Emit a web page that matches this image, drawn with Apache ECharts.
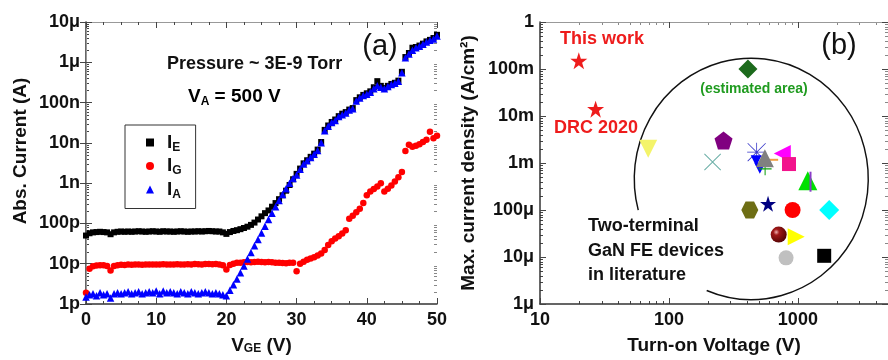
<!DOCTYPE html>
<html><head><meta charset="utf-8">
<script src="https://cdn.jsdelivr.net/npm/echarts@6/dist/echarts.min.js"></script>
<style>html,body{margin:0;padding:0;background:#fff}#c{width:888px;height:360px}</style>
</head><body><div id="c"></div>
<script>
const FONT = '"Liberation Sans", Arial, Helvetica, sans-serif';

// ---------- Panel (a) data ----------
const vGE = [0,0.5,1,1.5,2,2.5,3,3.5,4,4.5,5,5.5,6,6.5,7,7.5,8,8.5,9,9.5,10,10.5,11,11.5,12,12.5,13,13.5,14,14.5,15,15.5,16,16.5,17,17.5,18,18.5,19,19.5,20,20.5,21,21.5,22,22.5,23,23.5,24,24.5,25,25.5,26,26.5,27,27.5,28,28.5,29,29.5,30,30.5,31,31.5,32,32.5,33,33.5,34,34.5,35,35.5,36,36.5,37,37.5,38,38.5,39,39.5,40,40.5,41,41.5,42,42.5,43,43.5,44,44.5,45,45.5,46,46.5,47,47.5,48,48.5,49,49.5,50];
const iE = [5.0e-11,5.7e-11,6.0e-11,6.1e-11,6.2e-11,6.1e-11,6.0e-11,5.4e-11,6.0e-11,6.2e-11,
  6.3e-11,6.2e-11,6.3e-11,6.2e-11,6.3e-11,6.4e-11,6.3e-11,6.2e-11,6.3e-11,6.4e-11,
  6.3e-11,6.2e-11,6.4e-11,6.3e-11,6.3e-11,6.2e-11,6.3e-11,6.4e-11,6.3e-11,6.2e-11,
  6.3e-11,6.3e-11,6.4e-11,6.3e-11,6.4e-11,6.5e-11,6.4e-11,6.3e-11,6.3e-11,6.0e-11,
  5.5e-11,6.1e-11,6.5e-11,6.8e-11,7.2e-11,7.7e-11,8.3e-11,9.2e-11,1.05e-10,1.25e-10,
  1.5e-10,1.8e-10,2.1e-10,2.6e-10,3.2e-10,4.0e-10,5.0e-10,6.5e-10,9.0e-10,1.25e-9,
  1.7e-9,2.3e-9,3.1e-9,3.7e-9,4.5e-9,5.4e-9,6.8e-9,1.05e-8,2.1e-8,2.7e-8,
  3.3e-8,3.8e-8,4.6e-8,5.3e-8,5.8e-8,6.7e-8,7.3e-8,1.15e-7,1.35e-7,1.55e-7,
  1.7e-7,1.9e-7,2.4e-7,3.4e-7,2.6e-7,2.3e-7,2.6e-7,2.9e-7,3.1e-7,3.5e-7,
  5.8e-7,1.35e-6,1.7e-6,2.3e-6,2.4e-6,2.6e-6,2.9e-6,3.3e-6,3.6e-6,4.0e-6,4.8e-6];
const iG = [1.9e-12,7.5e-12,8.6e-12,9.0e-12,9.2e-12,9.1e-12,8.8e-12,6.8e-12,8.8e-12,9.2e-12,
  9.4e-12,9.3e-12,9.5e-12,9.4e-12,9.5e-12,9.6e-12,9.4e-12,9.5e-12,9.6e-12,9.5e-12,
  9.6e-12,9.5e-12,9.7e-12,9.6e-12,9.5e-12,9.6e-12,9.7e-12,9.6e-12,9.5e-12,9.7e-12,
  9.6e-12,9.8e-12,9.7e-12,9.6e-12,9.8e-12,9.9e-12,9.7e-12,9.8e-12,9.6e-12,9.2e-12,
  7.2e-12,9.3e-12,1.0e-11,1.05e-11,1.06e-11,1.08e-11,1.1e-11,1.08e-11,1.1e-11,1.12e-11,
  1.1e-11,1.08e-11,1.1e-11,1.08e-11,1.06e-11,1.05e-11,1.04e-11,1.02e-11,1.05e-11,1.06e-11,
  6.5e-12,1.0e-11,1.12e-11,1.25e-11,1.35e-11,1.45e-11,1.6e-11,1.8e-11,2.2e-11,2.9e-11,
  3.6e-11,4.2e-11,4.8e-11,5.6e-11,6.8e-11,1.3e-10,1.55e-10,1.9e-10,2.3e-10,3.2e-10,
  5.0e-10,6.2e-10,7.2e-10,8.2e-10,1.0e-9,6.2e-10,7.3e-10,8.8e-10,1.1e-9,1.4e-9,
  1.9e-9,6.3e-9,9.0e-9,8.0e-9,8.5e-9,9.3e-9,1.05e-8,1.2e-8,1.9e-8,1.3e-8,1.5e-8];
const iA = [1.5e-12,1.7e-12,1.8e-12,1.6e-12,1.9e-12,1.7e-12,1.8e-12,1.4e-12,1.8e-12,1.9e-12,
  1.8e-12,1.9e-12,2.0e-12,1.8e-12,1.9e-12,2.0e-12,1.8e-12,1.9e-12,2.0e-12,1.9e-12,
  2.1e-12,1.8e-12,2.1e-12,1.9e-12,2.0e-12,1.9e-12,1.8e-12,2.0e-12,1.9e-12,1.8e-12,
  2.0e-12,1.9e-12,1.8e-12,1.9e-12,2.0e-12,1.9e-12,1.8e-12,1.9e-12,1.8e-12,1.7e-12,
  1.6e-12,2.2e-12,3.0e-12,4.2e-12,6.0e-12,8.8e-12,1.3e-11,1.9e-11,2.8e-11,4.0e-11,
  5.8e-11,8.5e-11,1.25e-10,1.8e-10,2.6e-10,3.7e-10,5.2e-10,7.3e-10,1.0e-9,1.3e-9,
  1.6e-9,2.2e-9,3.0e-9,3.6e-9,4.3e-9,5.2e-9,6.5e-9,1.0e-8,2.0e-8,2.6e-8,
  3.2e-8,3.6e-8,4.5e-8,5.0e-8,5.5e-8,6.5e-8,7.0e-8,1.1e-7,1.3e-7,1.5e-7,
  1.6e-7,1.8e-7,2.2e-7,2.6e-7,2.4e-7,2.2e-7,2.5e-7,2.8e-7,3.0e-7,3.4e-7,
  5.5e-7,1.3e-6,1.6e-6,2.0e-6,2.3e-6,2.5e-6,2.8e-6,3.2e-6,3.5e-6,3.8e-6,4.5e-6];
const seriesNamesA = ['I_E','I_G','I_A'];
const yTickLabelsA = ['1p','10p','100p','1n','10n','100n','1\u03bc','10\u03bc']; // 1e-12 .. 1e-5
const xTicksA = [0,10,20,30,40,50];

// ---------- Panel (b) data ----------
const workNames = ['This work','DRC 2020'];
const workV = [20, 27];
const workJ = [0.15, 0.014];
const litV = [69, 410, 265, 218, 479, 475, 507, 557, 643, 555, 757, 853, 1194, 1253, 587, 424, 910, 1750, 710, 970, 810, 1600];
const litJ = [2.0e-3, 0.1, 3.0e-3, 1.05e-3, 1.7e-3, 1.12e-3, 7.7e-4, 7.5e-4, 1.17e-3, 1.26e-3, 1.6e-3, 9.5e-4, 4.2e-4, 4.0e-4, 1.35e-4, 1.0e-4, 1.0e-4, 1.0e-4, 3.0e-5, 2.7e-5, 9.6e-6, 1.06e-5];
const xTickLabelsB = ['10','100','1000'];               // 1e1 .. 1e3
const yTickLabelsB = ['1\u03bc','10\u03bc','100\u03bc','1m','10m','100m','1']; // 1e-6 .. 1e0

// marker styles (not data)
const STAR = 'path://M50,0 L61.8,35.3 L98.9,35.3 L69,57.1 L80.3,92.7 L50,70.7 L19.7,92.7 L31,57.1 L1.1,35.3 L38.2,35.3 Z';
const PENT = 'path://M50,0 L97.6,34.5 L79.4,90.5 L20.6,90.5 L2.4,34.5 Z';
const HEX = 'path://M25,0 L75,0 L100,43.3 L75,86.6 L25,86.6 L0,43.3 Z';
const XMARK = 'path://M0,4 L4,0 L50,46 L96,0 L100,4 L54,50 L100,96 L96,100 L50,54 L4,100 L0,96 L46,50 Z';
const ASTER = 'path://M48,0 L52,0 L52,100 L48,100 Z M0,48 L100,48 L100,52 L0,52 Z M1.4,4.2 L4.2,1.4 L98.6,95.8 L95.8,98.6 Z M95.8,1.4 L98.6,4.2 L4.2,98.6 L1.4,95.8 Z';
const PLUS = 'path://M46,0 L54,0 L54,46 L100,46 L100,54 L54,54 L54,100 L46,100 L46,54 L0,54 L0,46 L46,46 Z';
const sphere = {type:'radial', x:0.35, y:0.35, r:0.75, colorStops:[{offset:0,color:'#f0b0b0'},{offset:0.25,color:'#a01818'},{offset:1,color:'#4a0000'}]};
const litStyle = [
  {s:'triangle', r:180, z:18, c:'#f4f46a'},
  {s:'diamond', r:0, z:19, c:'#1c6a1c'},
  {s:PENT, r:0, z:18, c:'#800080'},
  {s:XMARK, r:0, z:17, c:'#6aaea6'},
  {s:ASTER, r:0, z:19, c:'#3434c8'},
  {s:'triangle', r:180, z:11, c:'#0000ff'},
  {s:'triangle', r:180, z:11, c:'#0000ff'},
  {s:PLUS, r:0, z:13, c:'#10a010'},
  {s:'rect', r:0, z:[10,2], c:'#f0a040'},
  {s:'triangle', r:0, z:18, c:'#808080'},
  {s:'triangle', r:90, z:17, c:'#ff00ff'},
  {s:'rect', r:0, z:14, c:'#f2148c'},
  {s:'triangle', r:0, z:19, c:'#00e000'},
  {s:'rect', r:0, z:[2,20], c:'#8a3cc8'},
  {s:STAR, r:0, z:16, c:'#000080'},
  {s:HEX, r:0, z:17, c:'#6e6e14'},
  {s:'circle', r:0, z:16, c:'#ff0000'},
  {s:'diamond', r:0, z:20, c:'#00ffff'},
  {s:'circle', r:0, z:16, c:sphere},
  {s:'triangle', r:-90, z:17, c:'#ffff00'},
  {s:'circle', r:0, z:15, c:'#c0c0c0'},
  {s:'rect', r:0, z:14, c:'#000000'}
];

const chart = echarts.init(document.getElementById('c'), null, {renderer:'canvas'});
const labStyle = {color:'#111', fontFamily:FONT, fontWeight:'bold', fontSize:18};
const subRich = {
  m:{fontFamily:FONT, fontWeight:'bold', fontSize:19, color:'#111', lineHeight:22},
  s:{fontFamily:FONT, fontWeight:'bold', fontSize:12, color:'#111', lineHeight:12, verticalAlign:'bottom'}
};
const legRich = {
  m:{fontFamily:FONT, fontWeight:'bold', fontSize:19, color:'#111', lineHeight:22, padding:[0,0,0,8]},
  s:{fontFamily:FONT, fontWeight:'bold', fontSize:12, color:'#111', lineHeight:12, verticalAlign:'bottom'}
};
const mainLine = {show:true, lineStyle:{color:'#333', width:1.5}};
const mirrorLine = {show:true, lineStyle:{color:'#999', width:1}};
const tickIn = {show:true, inside:true, length:6, lineStyle:{color:'#444', width:1}};
const minorIn = {show:true, splitNumber:4, length:3, lineStyle:{color:'#444', width:1}};

function logLabel(arr, off){
  return function(v){
    const l = Math.log10(v); const e = Math.round(l);
    if (Math.abs(l - e) > 0.01) return '';
    return arr[e - off] || '';
  };
}

const zip = (xs, ys) => xs.map((x, i) => [x, ys[i]]);

const option = {
  animation:false,
  backgroundColor:'#fff',
  textStyle:{fontFamily:FONT},
  grid:[
    {left:86, right:451, top:22, bottom:54},
    {left:540, right:-3, top:22, bottom:54}
  ],
  xAxis:[
    {gridIndex:0, type:'value', min:0, max:50, interval:10, position:'bottom',
     name:'V{s|GE} (V)', nameLocation:'middle', nameGap:32,
     nameTextStyle:{fontFamily:FONT, fontWeight:'bold', fontSize:19, color:'#111', rich:subRich},
     axisLine:mainLine, axisTick:tickIn, minorTick:minorIn, splitLine:{show:false},
     axisLabel:Object.assign({margin:7, formatter:v => xTicksA.includes(v) ? String(v) : ''}, labStyle)},
    {gridIndex:0, type:'value', min:0, max:50, interval:10, position:'top',
     axisLine:mirrorLine, axisTick:tickIn, minorTick:minorIn, splitLine:{show:false}, axisLabel:{show:false}},
    {gridIndex:1, type:'log', logBase:10, min:10, max:5000, position:'bottom',
     name:'Turn-on Voltage (V)', nameLocation:'middle', nameGap:32,
     nameTextStyle:{fontFamily:FONT, fontWeight:'bold', fontSize:19, color:'#111'},
     axisLine:mainLine, axisTick:tickIn, splitLine:{show:false},
     axisLabel:Object.assign({margin:7, showMaxLabel:false, formatter:logLabel(xTickLabelsB, 1)}, labStyle)},
    {gridIndex:1, type:'log', logBase:10, min:10, max:5000, position:'top',
     axisLine:mirrorLine, axisTick:tickIn, splitLine:{show:false}, axisLabel:{show:false}}
  ],
  yAxis:[
    {gridIndex:0, type:'log', logBase:10, min:1e-12, max:1e-5, interval:1, position:'left',
     name:'Abs. Current (A)', nameLocation:'middle', nameGap:56,
     nameTextStyle:{fontFamily:FONT, fontWeight:'bold', fontSize:19, color:'#111', padding:[0,0,0,24]},
     axisLine:mainLine, axisTick:tickIn, splitLine:{show:false},
     axisLabel:Object.assign({margin:6, formatter:logLabel(yTickLabelsA, -12)}, labStyle)},
    {gridIndex:0, type:'log', logBase:10, min:1e-12, max:1e-5, interval:1, position:'right',
     axisLine:mirrorLine, axisTick:tickIn, splitLine:{show:false}, axisLabel:{show:false}},
    {gridIndex:1, type:'log', logBase:10, min:1e-6, max:1, interval:1, position:'left',
     name:'Max. current density (A/cm\u00b2)', nameLocation:'middle', nameGap:62,
     nameTextStyle:{fontFamily:FONT, fontWeight:'bold', fontSize:19, color:'#111'},
     axisLine:mainLine, axisTick:tickIn, splitLine:{show:false},
     axisLabel:Object.assign({margin:6, formatter:logLabel(yTickLabelsB, -6)}, labStyle)},
    {gridIndex:1, type:'log', logBase:10, min:1e-6, max:1, interval:1, position:'right',
     axisLine:mirrorLine, axisTick:tickIn, splitLine:{show:false}, axisLabel:{show:false}}
  ],
  legend:{
    data:seriesNamesA, orient:'vertical', left:125, top:125,
    borderColor:'#333', borderWidth:1, padding:[8,14,8,21], itemGap:3,
    itemWidth:8, itemHeight:8,
    formatter:n => '{m|I}{s|' + n.slice(2) + '}',
    textStyle:{rich:legRich}
  },
  series:[
    {name:seriesNamesA[0], type:'scatter', xAxisIndex:0, yAxisIndex:0, symbol:'rect', symbolSize:6,
     itemStyle:{color:'#000', opacity:1}, data:zip(vGE, iE)},
    {name:seriesNamesA[1], type:'scatter', xAxisIndex:0, yAxisIndex:0, symbol:'circle', symbolSize:6.5,
     itemStyle:{color:'#ff0000', opacity:1}, data:zip(vGE, iG)},
    {name:seriesNamesA[2], type:'scatter', xAxisIndex:0, yAxisIndex:0, symbol:'triangle', symbolSize:7.5,
     itemStyle:{color:'#0000ff', opacity:1}, data:zip(vGE, iA)},
    {name:'Literature', type:'scatter', xAxisIndex:2, yAxisIndex:2, itemStyle:{opacity:1},
     data:litV.map((v, i) => ({value:[v, litJ[i]], symbol:litStyle[i].s, symbolRotate:litStyle[i].r,
       symbolSize:litStyle[i].z, itemStyle:{color:litStyle[i].c, opacity:1}}))},
    {name:'This work', type:'scatter', xAxisIndex:2, yAxisIndex:2, symbol:STAR, symbolSize:17,
     itemStyle:{color:'#ee1c1c', opacity:1}, data:workV.map((v, i) => ({name:workNames[i], value:[v, workJ[i]]}))}
  ]
};
chart.setOption(option);

// ---------- decorations: log minor ticks, ellipse, annotations ----------
const g = [];
function px(finder, v){ return chart.convertToPixel(finder, v); }
function minorY(yIdx, xL, xR, e0, e1){
  for (let e = e0; e < e1; e++) for (let k = 2; k <= 9; k++){
    const y = Math.round(px({yAxisIndex:yIdx}, k * Math.pow(10, e))) + 0.5;
    g.push({type:'line', silent:true, shape:{x1:xL, y1:y, x2:xL + 3, y2:y}, style:{stroke:'#444', lineWidth:1}});
    g.push({type:'line', silent:true, shape:{x1:xR - 3, y1:y, x2:xR, y2:y}, style:{stroke:'#888', lineWidth:1}});
  }
}
function minorX(xIdx, yB, yT, e0, e1, vmax){
  for (let e = e0; e < e1; e++) for (let k = 2; k <= 9; k++){
    const v = k * Math.pow(10, e); if (v > vmax) continue;
    const x = Math.round(px({xAxisIndex:xIdx}, v)) + 0.5;
    g.push({type:'line', silent:true, shape:{x1:x, y1:yB, x2:x, y2:yB - 3}, style:{stroke:'#444', lineWidth:1}});
    g.push({type:'line', silent:true, shape:{x1:x, y1:yT, x2:x, y2:yT + 3}, style:{stroke:'#888', lineWidth:1}});
  }
}
const aL = px({xAxisIndex:0}, 0), aR = px({xAxisIndex:0}, 50);
const bL = px({xAxisIndex:2}, 10), bR = px({xAxisIndex:2}, 5000);
const yBot = px({yAxisIndex:0}, 1e-12), yTop = px({yAxisIndex:0}, 1e-5);
minorY(0, aL, aR, -12, -5);
minorY(2, bL, bR, -6, 0);
minorX(2, yBot, yTop, 1, 4, 5000);

// ellipse around literature devices (centre anchored in data space)
const ec = px({gridIndex:1}, [435, 4.6e-4]);
g.push({type:'arc', silent:true, x:ec[0], y:ec[1], scaleX:117/120.7, scaleY:1,
  shape:{cx:0, cy:0, r:120.7, startAngle:165*Math.PI/180, endAngle:112.4*Math.PI/180, clockwise:true},
  style:{stroke:'#111', lineWidth:1.5, fill:null}});

const boldTxt = (t, x, y, size, color, align) => ({type:'text', silent:true, x:x, y:y,
  style:{text:t, font:'bold ' + size + 'px ' + FONT, fill:color || '#111', textAlign:align || 'left', textVerticalAlign:'middle'}});
g.push({type:'text', silent:true, x:380, y:47, style:{text:'(a)', font:'29px ' + FONT, fill:'#111', textAlign:'center', textVerticalAlign:'middle'}});
g.push({type:'text', silent:true, x:839, y:46, style:{text:'(b)', font:'29px ' + FONT, fill:'#111', textAlign:'center', textVerticalAlign:'middle'}});
g.push(boldTxt('Pressure ~ 3E-9 Torr', 167, 64, 18));
g.push({type:'text', silent:true, x:188, y:97, style:{text:'{m|V}{s|A}{m| = 500 V}', rich:subRich, textAlign:'left', textVerticalAlign:'middle'}});
g.push(boldTxt('This work', 602, 39, 18, '#ee1c1c', 'center'));
g.push(boldTxt('DRC 2020', 596, 128, 18, '#ee1c1c', 'center'));
g.push(boldTxt('(estimated area)', 754, 89, 14, '#1f9b1f', 'center'));
g.push({type:'text', silent:true, x:588, y:214, style:{text:'Two-terminal\nGaN FE devices\nin literature',
  font:'bold 18px ' + FONT, fill:'#111', lineHeight:24.5, textAlign:'left', textVerticalAlign:'top'}});

chart.setOption({graphic:g});
</script></body></html>
